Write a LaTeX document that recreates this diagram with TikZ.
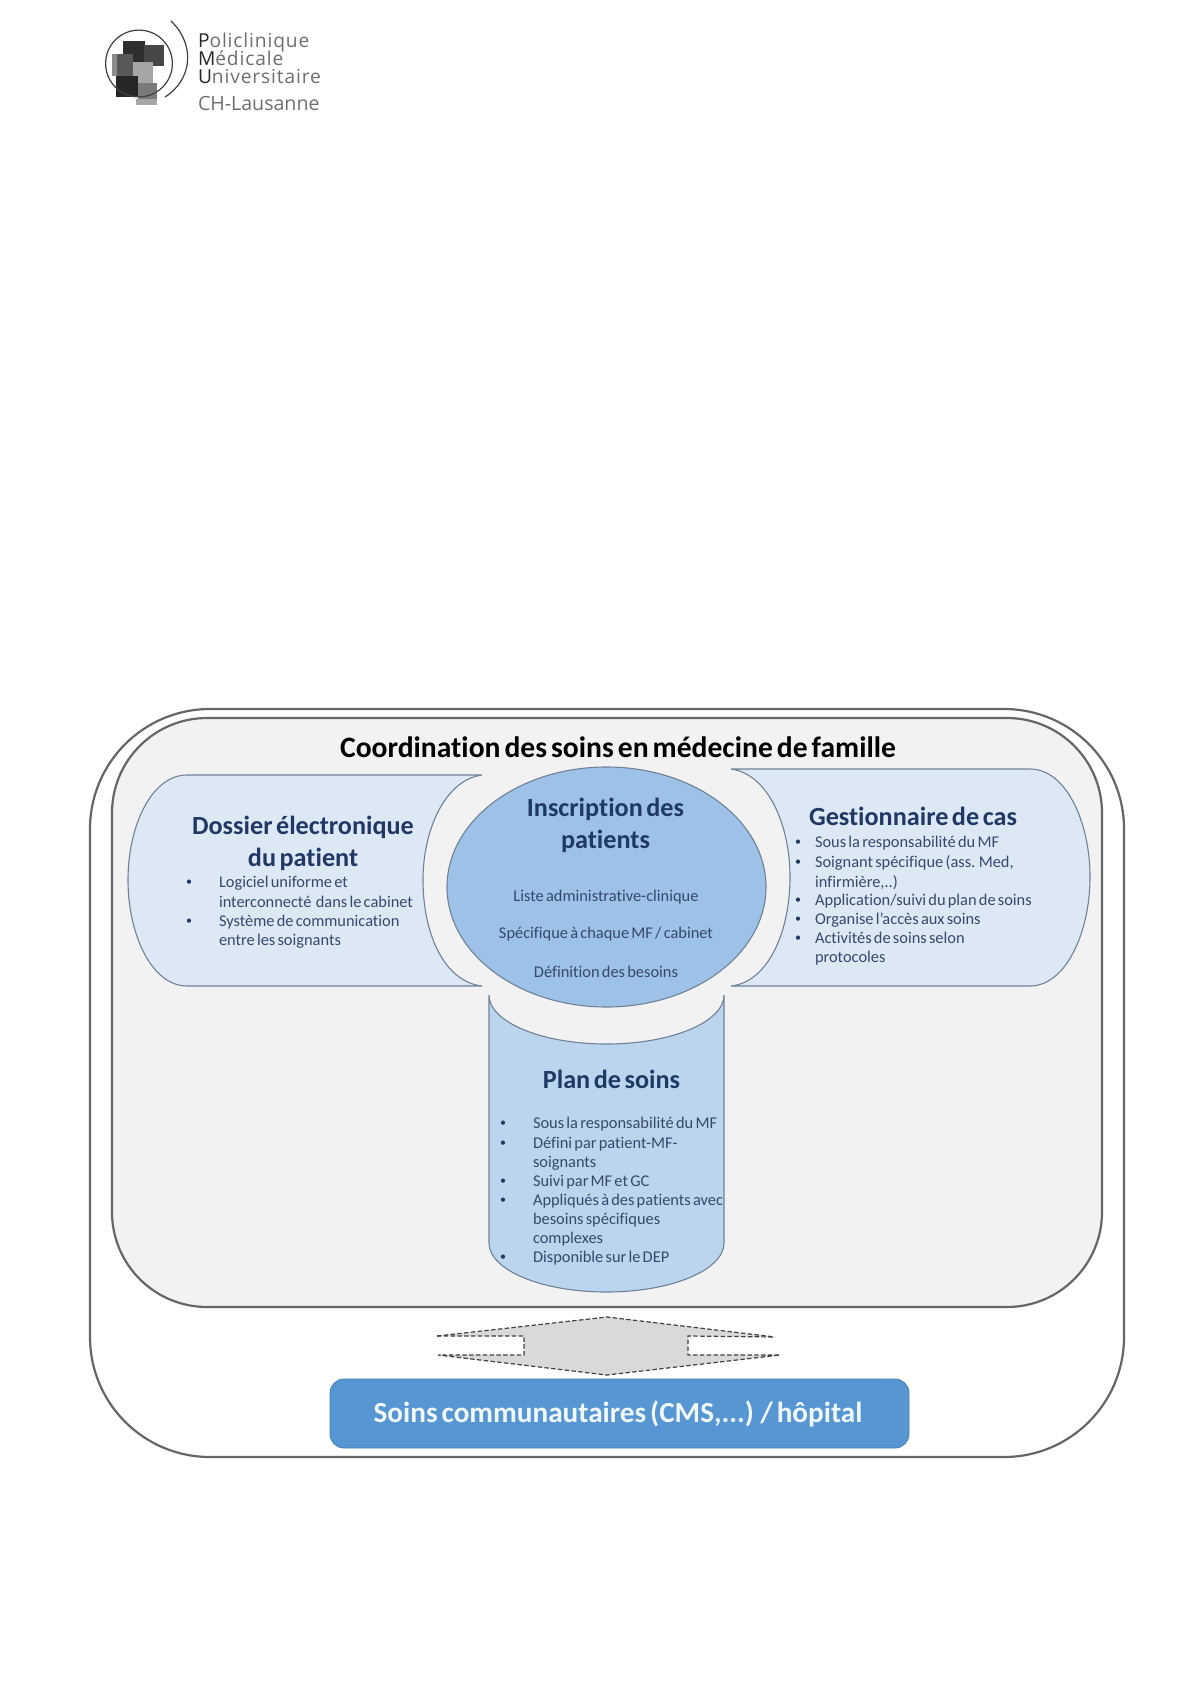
\documentclass[tikz,border=0pt]{standalone}
\usepackage{fontspec}
\setmainfont{Carlito}[WordSpace=0.6,Ligatures=CommonOff]
\newfontfamily\logofont{Open Sans}[LetterSpace=4.5]
\newfontfamily\logofontb{Open Sans}
\definecolor{frameC}{HTML}{666666}
\definecolor{panelC}{HTML}{F2F2F2}
\definecolor{sideC}{HTML}{DDE8F5}
\definecolor{planC}{HTML}{BBD5EE}
\definecolor{ovalC}{HTML}{9DC1E7}
\definecolor{edgeC}{HTML}{6F8296}
\definecolor{headC}{HTML}{1F3864}
\definecolor{bodyC}{HTML}{36496B}
\definecolor{boxC}{HTML}{5596D3}
\definecolor{arrowC}{HTML}{D9D9D9}
\definecolor{logoT}{HTML}{6E6E6E}
\tikzset{
  frameline/.style={draw=frameC,line width=1.1pt},
  shapeline/.style={draw=edgeC,line width=0.55pt},
  txt/.style={inner sep=0pt,outer sep=0pt,anchor=base west},
  ctxt/.style={inner sep=0pt,outer sep=0pt,anchor=base},
  headtxt/.style={ctxt,font=\fontsize{13.1}{15}\selectfont\bfseries,text=headC},
  bodytxt/.style={txt,font=\fontsize{8.2}{10}\selectfont,text=bodyC},
  bodyctr/.style={ctxt,font=\fontsize{8.2}{10}\selectfont,text=bodyC},
  bullet/.style={ctxt,yshift=0.7pt,font=\fontsize{6}{8}\selectfont,text=headC},
  logotxt/.style={txt,font=\fontsize{9.6}{11}\logofont,text=logoT},
  logotxtb/.style={txt,font=\fontsize{9.8}{11}\logofontb,text=logoT},
}
\newcommand{\lgb}[1]{\textcolor{black!85}{#1}}
\begin{document}
\begin{tikzpicture}[x=0.5pt,y=-0.5pt]
\path[use as bounding box,fill=white] (0,0) rectangle (1190,1684);
% logo
\fill[black!82] (123,41) rectangle (145,62);
\fill[black!72] (144,45) rectangle (164,66);
\fill[black!45] (112,54) rectangle (117,76);
\fill[black!65] (117,54) rectangle (133,76);
\fill[black!35] (133,62) rectangle (153,83);
\fill[black!85] (116,76) rectangle (138,97);
\fill[black!52] (138,83) rectangle (157,99);
\fill[black!35] (136,99) rectangle (157,105);
\draw[black!75,line width=0.6pt] (139,63.5) ellipse (16.7pt and 16.7pt);
\draw[black!75,line width=0.6pt] (171,21) .. controls (196,45) and (192,80) .. (165,97);
\node[logotxt] (lg1) at (198,48) {\lgb{P}oliclinique};
\node[logotxt] (lg2) at (198,66) {\lgb{M}édicale};
\node[logotxt] (lg3) at (198,84) {\lgb{U}niversitaire};
\node[logotxtb] (lg4) at (198,111) {CH-Lausanne};
% frames
\draw[frameline,rounded corners=60pt] (90,709) rectangle (1124,1457);
\draw[frameline,fill=panelC,rounded corners=47.5pt] (112,718) rectangle (1102,1307);
\node[ctxt,font=\fontsize{14.8}{17}\selectfont\bfseries,text=black] (title) at (618,757) {Coordination des soins en médecine de famille};
% left shape
\path[shapeline,fill=sideC] (187,775) -- (482,775)
  .. controls (445,780) and (423,830) .. (423,880)
  .. controls (423,935) and (445,982) .. (482,986)
  -- (187,986)
  .. controls (152,986) and (128,935) .. (128,880)
  .. controls (128,825) and (152,775) .. (187,775) -- cycle;
% right shape
\path[shapeline,fill=sideC] (1030,769) -- (731,769)
  .. controls (768,774) and (790,825) .. (790,877)
  .. controls (790,932) and (768,982) .. (731,986)
  -- (1030,986)
  .. controls (1066,986) and (1090,932) .. (1090,877)
  .. controls (1090,822) and (1066,769) .. (1030,769) -- cycle;
% bottom shape
\path[shapeline,fill=planC] (489,995)
  .. controls (489,1022) and (541.6,1044) .. (606.5,1044)
  .. controls (671.4,1044) and (724,1022) .. (724,995)
  -- (724,1243)
  .. controls (724,1270) and (671.4,1292) .. (606.5,1292)
  .. controls (541.6,1292) and (489,1270) .. (489,1243) -- cycle;
% ellipse
\draw[shapeline,fill=ovalC] (606.5,887) ellipse (79.75pt and 60pt);
% arrow
\path[fill=arrowC] (437,1336) -- (607,1317) -- (775,1337) -- (688,1336) -- (688,1355) -- (780,1355) -- (607,1375) -- (438,1355) -- (524,1355) -- (524,1336) -- cycle;
\draw[black!75,line width=0.6pt,dash pattern=on 2.2pt off 1.2pt] (437,1336) -- (607,1317) -- (775,1337);
\draw[black!75,line width=0.6pt,dash pattern=on 2.2pt off 1.2pt] (437,1336) -- (524,1336) -- (524,1355) -- (438,1355) -- (607,1375) -- (780,1355) -- (688,1355) -- (688,1336) -- (775,1337);
% bottom box
\draw[draw=boxC!85!black,line width=0.4pt,fill=boxC,rounded corners=7pt] (330,1379) rectangle (909,1448);
\node[ctxt,font=\fontsize{14.6}{17}\selectfont\bfseries,text=white!92!boxC] (soins) at (618,1422) {Soins communautaires (CMS,...) / hôpital};
% left text
\node[headtxt] (d1) at (303,834) {Dossier électronique};
\node[headtxt] (d2) at (303,866) {du patient};
\node[bullet] (db1) at (189,887) {•};
\node[bodytxt] (dt1) at (219,887) {Logiciel uniforme et};
\node[bodytxt] (dt2) at (219,907) {interconnecté\ \ dans le cabinet};
\node[bullet] (db2) at (189,926) {•};
\node[bodytxt] (dt3) at (219,926) {Système de communication};
\node[bodytxt] (dt4) at (219,945) {entre les soignants};
% centre text
\node[headtxt] (i1) at (605.5,816) {Inscription des};
\node[headtxt] (i2) at (605.5,848) {patients};
\node[bodyctr] (it1) at (606,901) {Liste administrative-clinique};
\node[bodyctr] (it2) at (606,938) {Spécifique à chaque MF / cabinet};
\node[bodyctr] (it3) at (606,977) {Définition des besoins};
% right text
\node[headtxt] (g1) at (913,825) {Gestionnaire de cas};
\node[bullet] (gb1) at (798,847) {•};
\node[bodytxt] (gt1) at (815,847) {Sous la responsabilité du MF};
\node[bullet] (gb2) at (798,867) {•};
\node[bodytxt] (gt2) at (815,867) {Soignant spécifique (ass. Med,};
\node[bodytxt] (gt3) at (815,887) {infirmière,..)};
\node[bullet] (gb3) at (798,905) {•};
\node[bodytxt] (gt4) at (815,905) {Application/suivi du plan de soins};
\node[bullet] (gb4) at (798,924) {•};
\node[bodytxt] (gt5) at (815,924) {Organise l’accès aux soins};
\node[bullet] (gb5) at (798,943) {•};
\node[bodytxt] (gt6) at (815,943) {Activités de soins selon};
\node[bodytxt] (gt7) at (815,962) {protocoles};
% plan text
\node[headtxt] (p1) at (611.5,1088) {Plan de soins};
\node[bullet] (pb1) at (503,1128) {•};
\node[bodytxt] (pt1) at (533,1128) {Sous la responsabilité du MF};
\node[bullet] (pb2) at (503,1148) {•};
\node[bodytxt] (pt2) at (533,1148) {Défini par patient-MF-};
\node[bodytxt] (pt3) at (533,1167) {soignants};
\node[bullet] (pb3) at (503,1186) {•};
\node[bodytxt] (pt4) at (533,1186) {Suivi par MF et GC};
\node[bullet] (pb4) at (503,1205) {•};
\node[bodytxt] (pt5) at (533,1205) {Appliqués à des patients avec};
\node[bodytxt] (pt6) at (533,1224) {besoins spécifiques};
\node[bodytxt] (pt7) at (533,1243) {complexes};
\node[bullet] (pb5) at (503,1262) {•};
\node[bodytxt] (pt8) at (533,1262) {Disponible sur le DEP};
\end{tikzpicture}
\end{document}
